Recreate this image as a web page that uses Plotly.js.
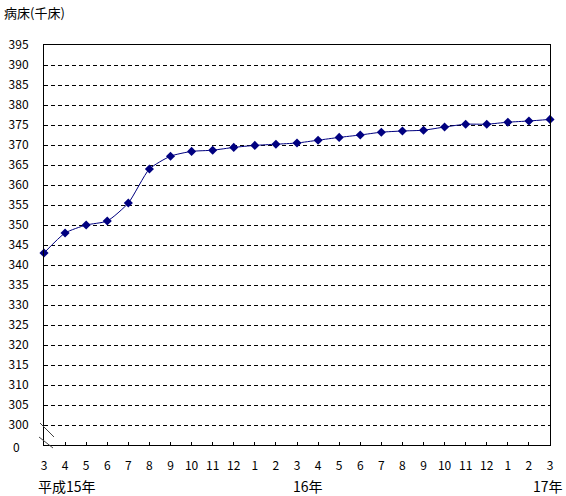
<!DOCTYPE html>
<html>
<head>
<meta charset="utf-8">
<script src="https://cdn.plot.ly/plotly-3.0.1.min.js"></script>
<style>html,body{margin:0;padding:0;background:#fff;}#chart{width:566px;height:496px;}</style>
</head>
<body>
<div id="chart"></div>
<script>
// Month labels (平成15年3月 〜 平成17年3月)
const monthLabels = ['3','4','5','6','7','8','9','10','11','12','1','2','3','4','5','6','7','8','9','10','11','12','1','2','3'];
// 病床数 (千床)
const beds = [343, 348, 350, 351, 355.5, 364, 367.2, 368.4, 368.7, 369.4, 369.9, 370.2, 370.5, 371.2, 371.9, 372.5, 373.2, 373.5, 373.7, 374.5, 375.2, 375.2, 375.7, 376.0, 376.4];
// Y tick values/labels (axis broken below 300; bottom shown as 0)
const yTickVals = [300,305,310,315,320,325,330,335,340,345,350,355,360,365,370,375,380,385,390,395];
const yTickText = ['300','305','310','315','320','325','330','335','340','345','350','355','360','365','370','375','380','385','390','395'];
const yBottomLabel = '0';
const yearLabels = ['平成15年','16年','17年'];

const xIdx = monthLabels.map((_, i) => i);
const font = "'MS PGothic','Noto Sans CJK JP','Noto Sans',sans-serif";

const trace = {
  x: xIdx, y: beds, type: 'scatter', mode: 'lines+markers',
  line: {color: '#000080', width: 1, shape: 'spline', smoothing: 0.6},
  marker: {symbol: 'diamond', size: 7, color: '#000080'},
  cliponaxis: false, hoverinfo: 'skip'
};

// pixel -> paper helpers for decorative marks
const L = 44, T = 45, W = 506, H = 400;
const px = x => (x - L) / W;
const py = y => (T + H - y) / H;

const layout = {
  width: 566, height: 496,
  margin: {l: L, r: 566 - L - W, t: T, b: 496 - T - H},
  paper_bgcolor: '#fff', plot_bgcolor: '#fff',
  showlegend: false,
  font: {family: font, size: 12, color: '#000'},
  xaxis: {
    range: [0, monthLabels.length - 1], tickmode: 'array', tickvals: xIdx, ticktext: monthLabels,
    showgrid: false, zeroline: false, showline: true, linecolor: '#000', linewidth: 1, mirror: true,
    ticks: 'inside', ticklen: 3, tickcolor: '#000', tickfont: {size: 12, family: font},
    ticklabelstandoff: 10
  },
  yaxis: {
    range: [295, 395], tickmode: 'array', tickvals: yTickVals, ticktext: yTickText,
    showgrid: true, gridcolor: '#000', gridwidth: 1, griddash: '4px,3px',
    zeroline: false, showline: true, linecolor: '#000', linewidth: 1, mirror: true,
    ticks: '', tickfont: {size: 12, family: font}, ticklabelstandoff: 12
  },
  shapes: [
    // axis break marks
    {type: 'line', xref: 'paper', yref: 'paper', x0: px(40), y0: py(423), x1: px(54), y1: py(437), line: {color: '#444', width: 1}},
    {type: 'line', xref: 'paper', yref: 'paper', x0: px(39), y0: py(437), x1: px(53), y1: py(448), line: {color: '#444', width: 1}}
  ],
  annotations: [
    {text: yBottomLabel, xref: 'paper', yref: 'paper', x: px(16), y: py(447), xanchor: 'center', yanchor: 'middle', showarrow: false, font: {size: 12, family: font}},
    {text: '病床(千床)', xref: 'paper', yref: 'paper', x: px(2), y: py(13), xanchor: 'left', yanchor: 'middle', showarrow: false, font: {size: 13, family: font}},
    {text: yearLabels[0], xref: 'paper', yref: 'paper', x: px(67), y: py(486), xanchor: 'center', yanchor: 'middle', showarrow: false, font: {size: 14, family: font}},
    {text: yearLabels[1], xref: 'paper', yref: 'paper', x: px(308), y: py(486), xanchor: 'center', yanchor: 'middle', showarrow: false, font: {size: 14, family: font}},
    {text: yearLabels[2], xref: 'paper', yref: 'paper', x: px(548), y: py(486), xanchor: 'center', yanchor: 'middle', showarrow: false, font: {size: 14, family: font}}
  ]
};

Plotly.newPlot('chart', [trace], layout, {displayModeBar: false, staticPlot: true});
</script>
</body>
</html>
